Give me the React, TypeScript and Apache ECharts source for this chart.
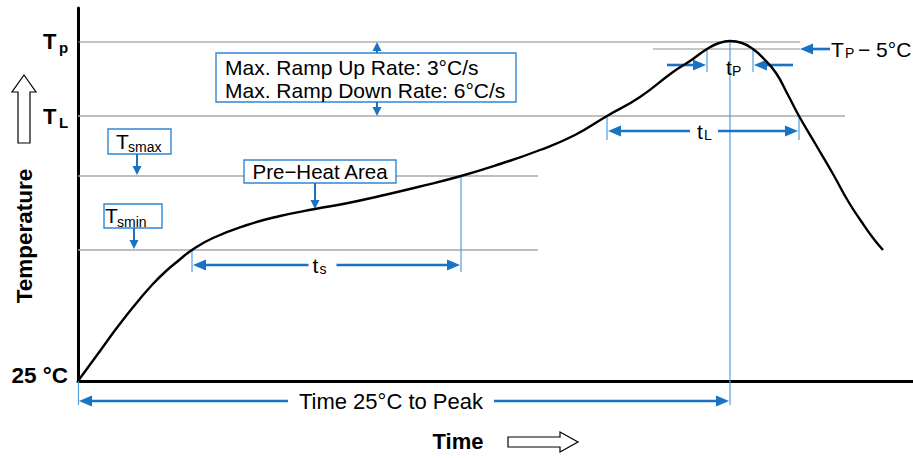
import React, { useEffect, useRef } from "react";
import * as echarts from "echarts";

// Reflow profile (schematic units: time along x, temperature above 25 °C along y)
const timeValues = [0, 11, 22, 35, 48, 61, 74, 87, 100, 114, 135, 169, 202, 237, 270, 302, 340, 383, 422, 462, 497, 529, 562, 595, 612, 629, 641, 652, 664, 675, 686, 698, 710, 721, 738, 755, 770, 783, 795, 805];
const tempValues = [0, 15, 30, 48, 65, 81, 96, 109, 120, 131, 143, 156, 165, 172, 178, 185, 194, 205, 217, 231, 246, 265, 284, 309, 320, 332, 338, 340, 338, 332, 322, 308, 286, 265, 236, 207, 180, 160, 143, 131];

// Temperature levels
const levelTP = 339;
const levelTP5 = 332;
const levelTL = 265;
const levelTsmax = 205;
const levelTsmin = 131;

// Time marks
const tsStart = 114;
const tsEnd = 383;
const tLStart = 529;
const tLEnd = 721;
const tPStart = 629;
const tPEnd = 675;
const tPeak = 652;

const xMax = 835;
const yMax = 373;

const FONT = "'Liberation Sans', Arial, Helvetica, sans-serif";
const BLUE = "#1a73c2";
const LBLUE = "#4f9ee2";
const BOXBLUE = "#3087d6";

export default function App() {
  const ref = useRef<HTMLDivElement>(null);

  useEffect(() => {
    if (!ref.current) return;
    const chart = echarts.init(ref.current, undefined, { renderer: "svg" });

    const renderItem = (_params: any, api: any) => {
      const P = (t: number, T: number) => api.coord([t, T]) as number[];
      const ch: any[] = [];
      const line = (x1: number, y1: number, x2: number, y2: number, stroke: string, lineWidth: number) =>
        ch.push({ type: "line", shape: { x1, y1, x2, y2 }, style: { stroke, lineWidth } });
      const arrow = (x1: number, y1: number, x2: number, y2: number, lw = 2.6, hl = 13, hw = 5.5, color = BLUE) => {
        const dx = x2 - x1, dy = y2 - y1;
        const L = Math.hypot(dx, dy);
        const ux = dx / L, uy = dy / L;
        const bx = x2 - ux * hl, by = y2 - uy * hl;
        line(x1, y1, bx + ux * 1, by + uy * 1, color, lw);
        ch.push({
          type: "polygon",
          shape: { points: [[x2, y2], [bx - uy * hw, by + ux * hw], [bx + uy * hw, by - ux * hw]] },
          style: { fill: color },
        });
      };
      const text = (x: number, y: number, s: string, size: number, opt: any = {}) =>
        ch.push({
          type: "text",
          x,
          y,
          rotation: opt.rotation || 0,
          style: {
            text: s,
            fontSize: size,
            fontFamily: FONT,
            fontWeight: opt.bold ? "bold" : "normal",
            fill: "#000",
            align: opt.align || "left",
            verticalAlign: "middle",
          },
        });
      const box = (x: number, y: number, w: number, h: number) =>
        ch.push({ type: "rect", shape: { x, y, width: w, height: h }, style: { fill: "#fff", stroke: BOXBLUE, lineWidth: 1.4 } });

      const [x0, y0] = P(0, 0);
      const yTP = P(0, levelTP)[1];
      const yTP5 = P(0, levelTP5)[1];
      const yTL = P(0, levelTL)[1];
      const yTsmax = P(0, levelTsmax)[1];
      const yTsmin = P(0, levelTsmin)[1];

      // grey level lines
      line(x0, yTP, P(722, 0)[0], yTP, "#8a8a8a", 1.2);
      line(P(575, 0)[0], yTP5, P(722, 0)[0], yTP5, "#b5b5b5", 1.6);
      line(x0, yTL, P(767, 0)[0], yTL, "#a8a8a8", 1.5);
      line(x0, yTsmax, P(460, 0)[0], yTsmax, "#a8a8a8", 1.5);
      line(x0, yTsmin, P(460, 0)[0], yTsmin, "#a8a8a8", 1.5);

      // blue verticals
      const xPeak = P(tPeak, 0)[0];
      line(xPeak, yTP, xPeak, y0 + 24, LBLUE, 1.2);
      line(x0 + 0.5, y0, x0 + 0.5, y0 + 24, LBLUE, 1.2);
      const xs = P(tsStart, 0)[0], xe = P(tsEnd, 0)[0];
      line(xs, yTsmin, xs, yTsmin + 22, LBLUE, 1.2);
      line(xe, yTsmax, xe, yTsmin + 22, LBLUE, 1.2);
      const xl1 = P(tLStart, 0)[0], xl2 = P(tLEnd, 0)[0];
      line(xl1, yTL, xl1, yTL + 24, LBLUE, 1.2);
      line(xl2, yTL, xl2, yTL + 24, LBLUE, 1.2);
      const xp1 = P(tPStart, 0)[0], xp2 = P(tPEnd, 0)[0];
      line(xp1, yTP5, xp1, yTP5 + 23, LBLUE, 1.2);
      line(xp2, yTP5, xp2, yTP5 + 23, LBLUE, 1.2);

      // t_s
      {
        const y = yTsmin + 15;
        const cx = (xs + xe) / 2 - 4;
        arrow(cx - 14, y, xs + 1, y);
        arrow(cx + 14, y, xe - 1, y);
        text(cx - 10, y, "t", 21);
        text(cx - 3, y + 4, "s", 14);
      }
      // t_L
      {
        const y = yTL + 15;
        const cx = (xl1 + xl2) / 2 + 1;
        arrow(cx - 14, y, xl1 + 1, y);
        arrow(cx + 14, y, xl2 - 1, y);
        text(cx - 7, y, "t", 21);
        text(cx, y + 4, "L", 14);
      }
      // t_P
      {
        const y = yTP5 + 16;
        arrow(xp1 - 40, y, xp1 - 1, y);
        arrow(xp2 + 40, y, xp2 + 1, y);
        text(xPeak - 4, y + 2, "t", 21);
        text(xPeak + 2, y + 6, "P", 14);
      }
      // T_P - 5 °C
      {
        const xt = P(722, 0)[0];
        arrow(xt + 30, yTP5, xt, yTP5);
        text(xt + 31, yTP5, "T", 21);
        text(xt + 45, yTP5 + 4, "P", 14);
        text(xt + 58, yTP5, "\u2212 5\u00B0C", 21);
      }
      // Time 25 °C to Peak
      {
        const y = y0 + 20;
        const cx = x0 + (xPeak - x0) * 0.48;
        arrow(cx - 103, y, x0 + 1, y);
        arrow(cx + 103, y, xPeak - 1, y);
        text(cx, y, "Time 25\u00B0C to Peak", 22, { align: "center" });
      }

      // Max ramp box
      box(216, 53, 300, 49);
      text(225, 67, "Max. Ramp Up Rate: 3\u00B0C/s", 21);
      text(225, 90, "Max. Ramp Down Rate: 6\u00B0C/s", 21);
      arrow(377, 53, 377, yTP, 2, 9, 4.5);
      arrow(377, 102, 377, yTL, 2, 9, 4.5);

      // Tsmax box
      box(108, 129, 63, 25);
      text(116, 141, "T", 21);
      text(128, 147, "smax", 14);
      arrow(137, 154, 137, yTsmax - 1, 2, 9, 4.5);

      // Tsmin box
      box(104, 204, 58, 24);
      text(105, 215, "T", 21);
      text(117, 222, "smin", 14);
      arrow(134, 228, 134, yTsmin - 1, 2, 9, 4.5);

      // Pre-Heat box
      const tip = P(237, 172);
      box(244, 160, 152, 23);
      text(320, 171.5, "Pre\u2212Heat Area", 20.5, { align: "center" });
      arrow(tip[0], 183, tip[0], tip[1], 2, 9, 4.5);

      // axis labels
      text(43, yTP - 1, "T", 22, { bold: true });
      text(59, yTP + 5, "p", 15, { bold: true });
      text(43, yTL, "T", 22, { bold: true });
      text(59, yTL + 6, "L", 15, { bold: true });
      text(68, y0 - 6, "25 \u00B0C", 22.5, { bold: true, align: "right" });
      text(24, 236, "Temperature", 22.5, { bold: true, align: "center", rotation: Math.PI / 2 });
      text(458, 441, "Time", 22, { bold: true, align: "center" });

      // outline arrows
      ch.push({
        type: "polygon",
        shape: { points: [[24, 75], [36, 92], [30, 92], [30, 143], [18, 143], [18, 92], [12, 92]] },
        style: { fill: "#fff", stroke: "#000", lineWidth: 1.2 },
      });
      ch.push({
        type: "polygon",
        shape: { points: [[508, 437], [560, 437], [560, 432], [578, 442], [560, 452], [560, 447], [508, 447]] },
        style: { fill: "#fff", stroke: "#000", lineWidth: 1.2 },
      });

      return { type: "group", children: ch };
    };

    chart.setOption({
      animation: false,
      grid: { left: 78, right: 0, top: 8, bottom: 77 },
      xAxis: {
        type: "value",
        min: 0,
        max: xMax,
        axisLine: { show: true, onZero: false, lineStyle: { color: "#000", width: 3 } },
        axisTick: { show: false },
        axisLabel: { show: false },
        splitLine: { show: false },
      },
      yAxis: {
        type: "value",
        min: 0,
        max: yMax,
        axisLine: { show: true, onZero: false, lineStyle: { color: "#000", width: 3 } },
        axisTick: { show: false },
        axisLabel: { show: false },
        splitLine: { show: false },
      },
      series: [
        {
          type: "custom",
          renderItem,
          data: [[0, 0]],
          silent: true,
          z: 2,
        },
        {
          type: "line",
          data: timeValues.map((t, i) => [t, tempValues[i]]),
          smooth: 0.5,
          symbol: "none",
          lineStyle: { color: "#000", width: 2.4 },
          z: 3,
        },
      ],
    });

    return () => chart.dispose();
  }, []);

  return <div ref={ref} style={{ position: "fixed", left: 0, top: 0, width: 913, height: 458, background: "#fff" }} />;
}
